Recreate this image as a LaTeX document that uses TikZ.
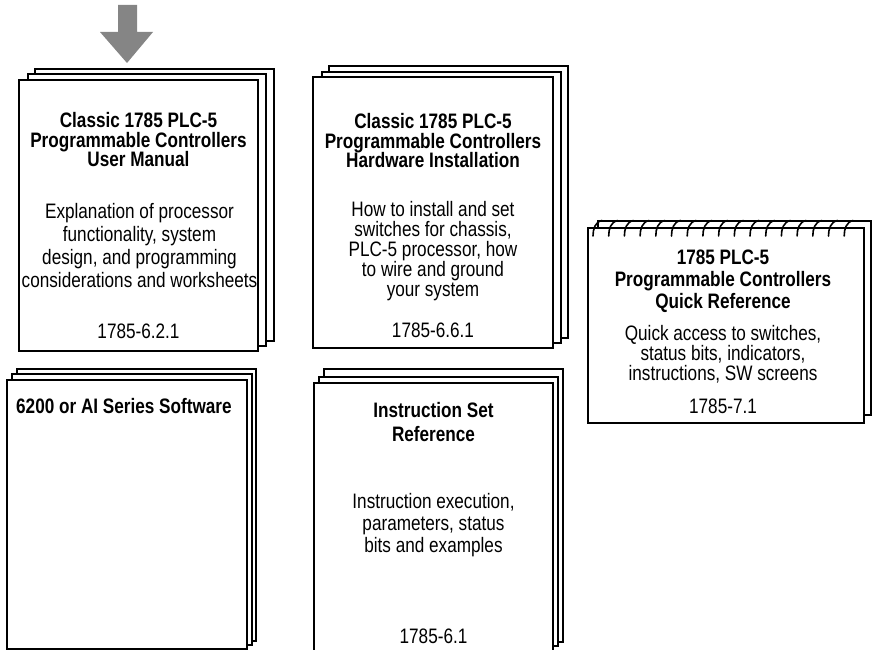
\documentclass[tikz,border=0pt]{standalone}
\usepackage{fontspec}
\setmainfont{Liberation Sans}[FakeStretch=0.82]
\begin{document}
\begin{tikzpicture}[x=1bp,y=-1bp,
  page/.style={draw=black, line width=2bp, fill=white, line join=miter},
  ttl/.style={font=\bfseries\fontsize{21}{#1}\selectfont, align=center, inner sep=0pt, anchor=base},
  ttl/.default=20,
  body/.style={font=\fontsize{21}{#1}\selectfont, align=center, inner sep=0pt, anchor=base},
  body/.default=22,
  num/.style={font=\fontsize{21}{20}\selectfont, inner sep=0pt, anchor=base},
  ring/.style={line width=1.6bp, line cap=round}
]
\useasboundingbox (0,0) rectangle (873,650);
% pointer arrow
\fill[black!48] (118,5) -- (137,5) -- (137,32) -- (153,32) -- (127,63) -- (100,32) -- (118,32) -- cycle;

% Book 1
\draw[page] (35,69) rectangle (274,341);
\draw[page] (28,74) rectangle (266,346);
\draw[page] (19,80) rectangle (258,351);
\node[ttl=20] (t1) at (138.5,167) {Classic 1785 PLC-5\\Programmable Controllers\\User Manual};
\node[body=23] (b1) at (139.5,287) {Explanation of processor\\functionality, system\\design, and programming\\considerations and worksheets};
\node[num] (n1) at (138.5,338) {1785-6.2.1};

% Book 2
\draw[page] (329,66) rectangle (568,338);
\draw[page] (322,72) rectangle (561,343);
\draw[page] (313,77) rectangle (553,348);
\node[ttl=20] (t2) at (433,168) {Classic 1785 PLC-5\\Programmable Controllers\\Hardware Installation};
\node[body=20] (b2) at (433,296) {How to install and set\\switches for chassis,\\PLC-5 processor, how\\to wire and ground\\your system};
\node[num] (n2) at (433,337) {1785-6.6.1};

% Book 3
\draw[page] (17,369) rectangle (256,641);
\draw[page] (12,374) rectangle (252,645);
\draw[page] (7,380) rectangle (247,649);
\node[ttl, anchor=base west] (t3) at (16,413) {6200 or AI Series Software};

% Book 4
\draw[page] (324,369) rectangle (563,642);
\draw[page] (319,377) rectangle (558,646);
\draw[page] (314,383) rectangle (553,660);
\node[ttl=24] (t4) at (433.5,441) {Instruction Set\\Reference};
\node[body=22] (b4) at (433.5,552) {Instruction execution,\\parameters, status\\bits and examples};
\node[num] (n4) at (433.5,643) {1785-6.1};

% Book 5 (quick reference, spiral bound)
\draw[page] (598,221) rectangle (871,415);
\draw[page] (588,228) rectangle (864,423);
\foreach \i in {0,...,16}{
  \draw[ring] ({593+15.7*\i},236) .. controls ({593+15.7*\i},229) and ({595+15.7*\i},222) .. ({602+15.7*\i},220.5);
}
\node[ttl=22] (t5) at (723,308) {1785 PLC-5\\Programmable Controllers\\Quick Reference};
\node[body=20] (b5) at (723,380) {Quick access to switches,\\status bits, indicators,\\instructions, SW screens};
\node[num] (n5) at (723,413) {1785-7.1};
\end{tikzpicture}
\end{document}
